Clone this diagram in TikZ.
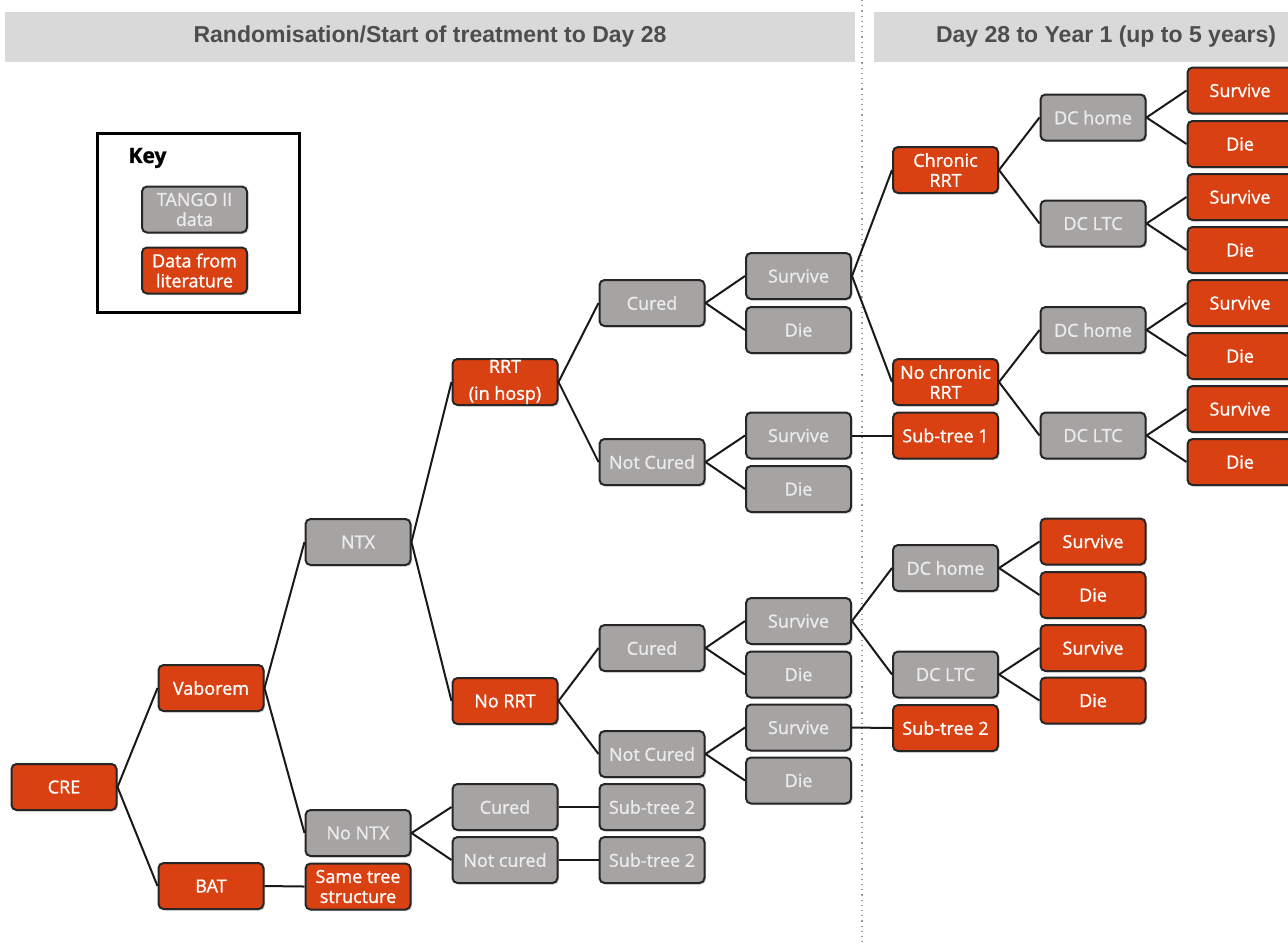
\documentclass[tikz,border=0pt]{standalone}
\usepackage{fontspec}
\setmainfont{Open Sans}
\newfontfamily\boxfont{Open Sans}[FakeBold=1.2]
\newfontfamily\headfont{Liberation Sans}
\usetikzlibrary{shadows}
\definecolor{litorange}{RGB}{218,65,18}
\definecolor{tangogray}{RGB}{166,163,163}
\definecolor{barfill}{RGB}{217,217,217}
\definecolor{bartext}{RGB}{77,77,77}
\tikzset{%
  box/.style={draw=black!85, line width=1pt, rectangle, rounded corners=2.5pt,
    minimum width=52.5pt, minimum height=23pt, inner sep=1pt, align=center,
    text=white, font=\boxfont\fontsize{9}{10}\selectfont,
    drop shadow={shadow xshift=0.8pt, shadow yshift=-0.8pt, opacity=0.3}},% every tree node
  tango/.style={box, fill=tangogray, text=white!92!black},% TANGO II data
  lit/.style={box, fill=litorange},% data from literature
  bar/.style={fill=barfill, minimum height=25pt, text=bartext,
    font=\headfont\bfseries\fontsize{11.5}{13}\selectfont},% phase header
  branch/.style={line width=1pt, black!90}% tree edge
}

\begin{document}
\begin{tikzpicture}[x=0.5pt, y=-0.5pt]
\useasboundingbox (0,0) rectangle (1288,944);
\clip (0,0) rectangle (1288,944);

% phase headers
\node[bar, minimum width=425pt] (phaseA) at (430,37) {Randomisation/Start of treatment to Day 28};
\node[bar, minimum width=232pt] (phaseB) at (1106,37) {Day 28 to Year 1 (up to 5 years)};
\coordinate (splittop) at (862,0);
\coordinate (splitbot) at (862,944);
\draw[dotted, black!40, line width=0.6pt] (splittop) -- (splitbot);

% key
\node[draw, line width=1.5pt, minimum width=101pt, minimum height=89.5pt] (keybox) at (198,222.5) {};
\node[font=\boxfont\bfseries\fontsize{10.5}{12}\selectfont] (keytitle) at (147.5,158) {Key};
\node[tango] (keytango) at (194.5,209.5) {TANGO II\\data};
\node[lit] (keylit) at (194.5,270.5) {Data from\\literature};

% randomisation to day 28
\node[lit] (cre) at (64,787) {CRE};
\node[lit] (vab) at (211,688) {Vaborem};
\node[lit] (bat) at (211,886) {BAT};
\node[tango] (ntx) at (358,542) {NTX};
\node[tango] (nontx) at (358,833) {No NTX};
\node[lit] (same) at (358,886.5) {Same tree\\structure};
\node[lit, inner ysep=0pt] (rrt) at (505,382) {RRT\\[3.5pt](in hosp)};
\node[lit] (norrt) at (505,701) {No RRT};
\node[tango] (ntxcured) at (505,807) {Cured};
\node[tango] (ntxnot) at (505,860) {Not cured};
\node[tango] (rcured) at (652,303) {Cured};
\node[tango] (rnot) at (652,462) {Not Cured};
\node[tango] (ncured) at (652,648) {Cured};
\node[tango] (nnot) at (652,754) {Not Cured};
\node[tango] (subA) at (652,807) {Sub-tree 2};
\node[tango] (subB) at (652,860) {Sub-tree 2};
\node[tango] (rcs) at (798.5,276) {Survive};
\node[tango] (rcd) at (798.5,330) {Die};
\node[tango] (rns) at (798.5,435.5) {Survive};
\node[tango] (rnd) at (798.5,489) {Die};
\node[tango] (ncs) at (798.5,621) {Survive};
\node[tango] (ncd) at (798.5,674.5) {Die};
\node[tango] (nns) at (798.5,727.5) {Survive};
\node[tango] (nnd) at (798.5,780.5) {Die};

% day 28 to year 1
\node[lit] (chr) at (945.5,170) {Chronic\\RRT};
\node[lit] (nochr) at (945.5,382) {No chronic\\RRT};
\node[lit] (subone) at (945.5,435.5) {Sub-tree 1};
\node[tango] (home) at (945.5,568) {DC home};
\node[tango] (ltc) at (945.5,674.5) {DC LTC};
\node[lit] (subtwo) at (945.5,728) {Sub-tree 2};
\node[tango] (chome) at (1093,117.5) {DC home};
\node[tango] (cltc) at (1093,223.5) {DC LTC};
\node[tango] (nhome) at (1093,330) {DC home};
\node[tango] (nltc) at (1093,435.5) {DC LTC};
\node[lit] (hs) at (1093,541.5) {Survive};
\node[lit] (hd) at (1093,595) {Die};
\node[lit] (ls) at (1093,648) {Survive};
\node[lit] (ld) at (1093,700.5) {Die};
\node[lit] (chs) at (1240,90.5) {Survive};
\node[lit] (chd) at (1240,144) {Die};
\node[lit] (cls) at (1240,197) {Survive};
\node[lit] (cld) at (1240,250) {Die};
\node[lit] (nhs) at (1240,303) {Survive};
\node[lit] (nhd) at (1240,356) {Die};
\node[lit] (nls) at (1240,409) {Survive};
\node[lit] (nld) at (1240,462) {Die};

% branches
\draw[branch] (cre.east) -- (vab.west) (cre.east) -- (bat.west);
\draw[branch] (vab.east) -- (ntx.west) (vab.east) -- (nontx.west);
\draw[branch] (bat.east) -- (same.west);
\draw[branch] (ntx.east) -- (rrt.west) (ntx.east) -- (norrt.west);
\draw[branch] (nontx.east) -- (ntxcured.west) (nontx.east) -- (ntxnot.west);
\draw[branch] (ntxcured.east) -- (subA.west);
\draw[branch] (ntxnot.east) -- (subB.west);
\draw[branch] (rrt.east) -- (rcured.west) (rrt.east) -- (rnot.west);
\draw[branch] (norrt.east) -- (ncured.west) (norrt.east) -- (nnot.west);
\draw[branch] (rcured.east) -- (rcs.west) (rcured.east) -- (rcd.west);
\draw[branch] (rnot.east) -- (rns.west) (rnot.east) -- (rnd.west);
\draw[branch] (ncured.east) -- (ncs.west) (ncured.east) -- (ncd.west);
\draw[branch] (nnot.east) -- (nns.west) (nnot.east) -- (nnd.west);
\draw[branch] (rcs.east) -- (chr.west) (rcs.east) -- (nochr.west);
\draw[branch] (rns.east) -- (subone.west);
\draw[branch] (ncs.east) -- (home.west) (ncs.east) -- (ltc.west);
\draw[branch] (nns.east) -- (subtwo.west);
\draw[branch] (chr.east) -- (chome.west) (chr.east) -- (cltc.west);
\draw[branch] (nochr.east) -- (nhome.west) (nochr.east) -- (nltc.west);
\draw[branch] (home.east) -- (hs.west) (home.east) -- (hd.west);
\draw[branch] (ltc.east) -- (ls.west) (ltc.east) -- (ld.west);
\draw[branch] (chome.east) -- (chs.west) (chome.east) -- (chd.west);
\draw[branch] (cltc.east) -- (cls.west) (cltc.east) -- (cld.west);
\draw[branch] (nhome.east) -- (nhs.west) (nhome.east) -- (nhd.west);
\draw[branch] (nltc.east) -- (nls.west) (nltc.east) -- (nld.west);

\end{tikzpicture}
\end{document}
